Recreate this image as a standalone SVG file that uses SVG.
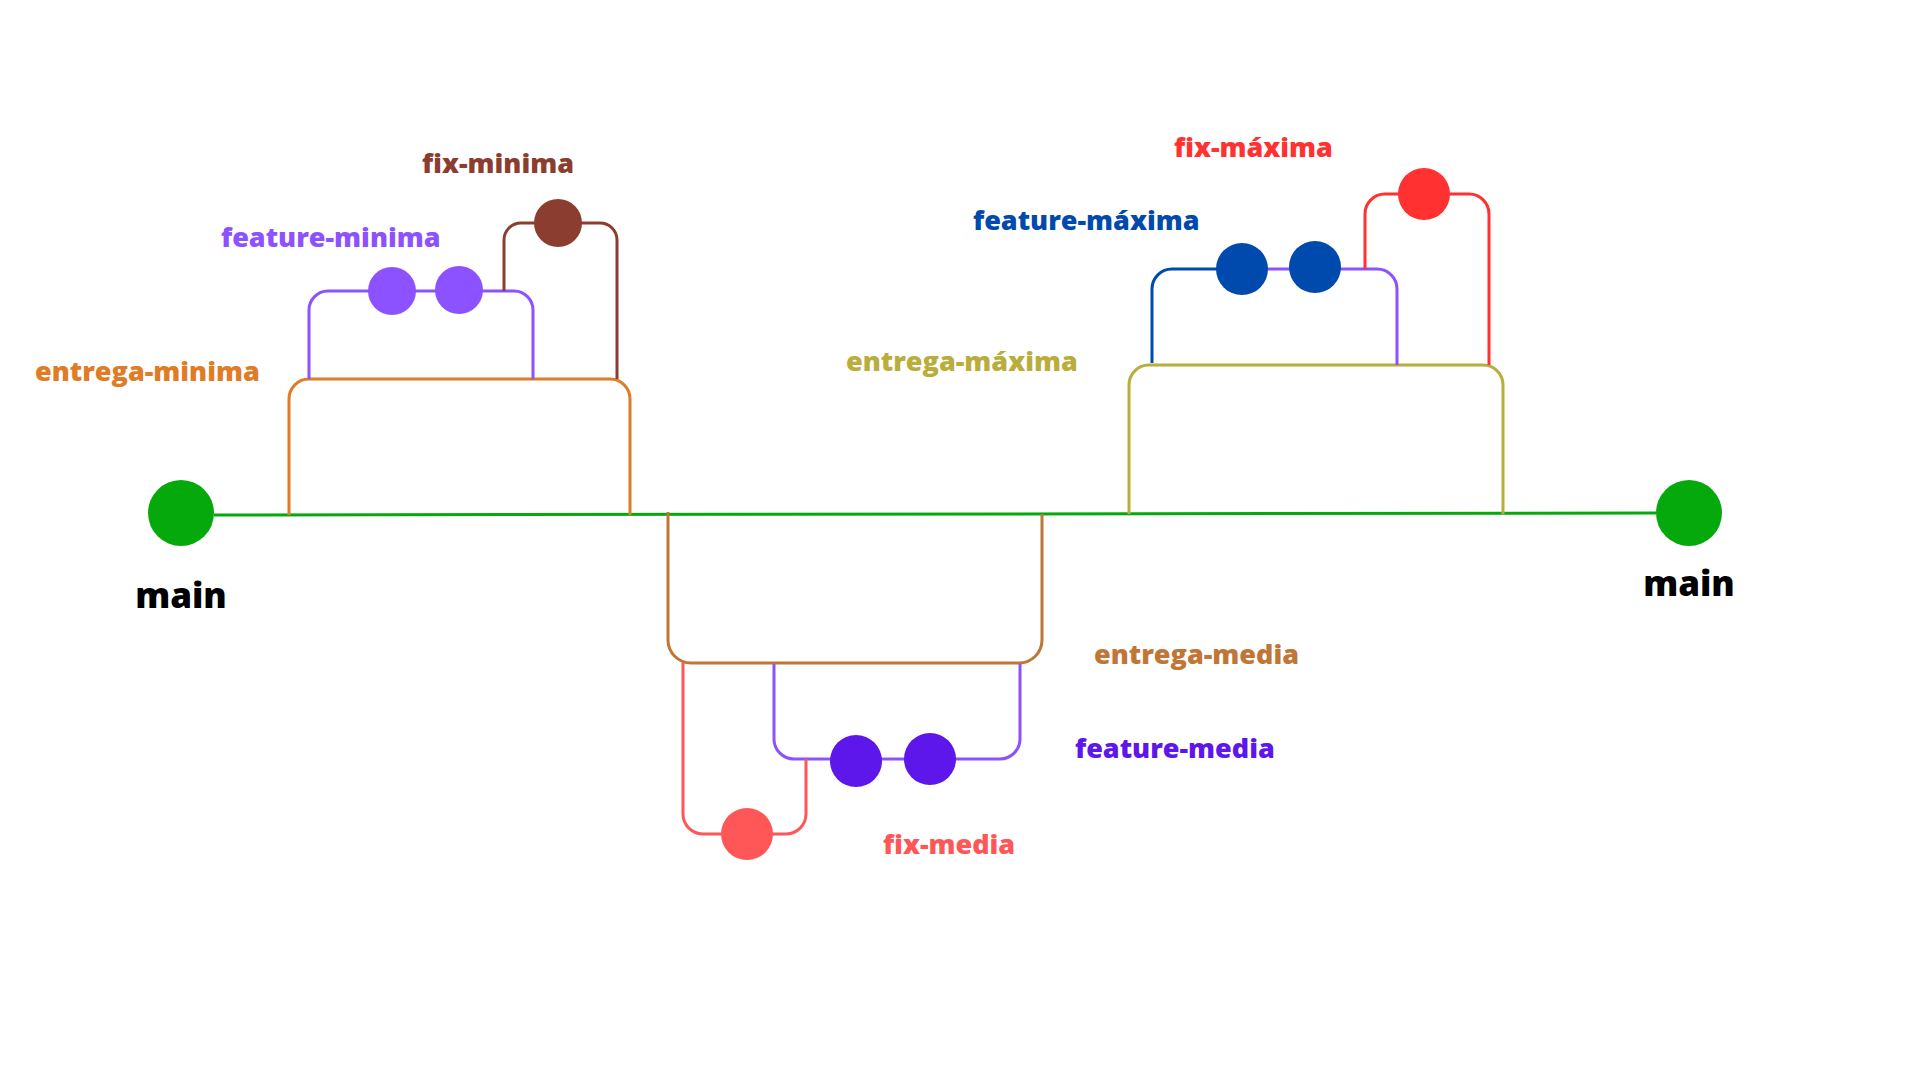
<svg xmlns="http://www.w3.org/2000/svg" width="1920" height="1080" viewBox="0 0 1920 1080">
<style>
  .lbl { font-family: "Open Sans", "Liberation Sans", sans-serif; font-weight: 800; font-size: 27px; }
  .main-lbl { font-family: "Open Sans", "Liberation Sans", sans-serif; font-weight: 800; font-size: 35px; fill: #000000; text-anchor: middle; }
  .ln { fill: none; stroke-width: 3; stroke-linecap: butt; }
</style>
<rect x="0" y="0" width="1920" height="1080" fill="#ffffff"/>
<g id="connectors">
  <path id="main-line" class="ln" stroke="#06A90B" d="M214,515 L1656,513"/>
  <path id="entrega-minima-line" class="ln" stroke="#E07B26" d="M289,515 V399 A20,20 0 0 1 309,379 H610 A20,20 0 0 1 630,399 V515"/>
  <path id="feature-minima-line" class="ln" stroke="#8C52FF" d="M309,379 V310 A19,19 0 0 1 328,291 H514 A19,19 0 0 1 533,310 V379"/>
  <path id="fix-minima-line" class="ln" stroke="#8B3E2F" d="M504,291 V240 A17,17 0 0 1 521,223 H600 A17,17 0 0 1 617,240 V379"/>
  <path id="entrega-media-line" class="ln" stroke="#C07636" d="M668,512 V640 A23,23 0 0 0 691,663 H1019 A23,23 0 0 0 1042,640 V514"/>
  <path id="feature-media-line" class="ln" stroke="#8C52FF" d="M774,664 V739 A20,20 0 0 0 794,759 H1000 A20,20 0 0 0 1020,739 V664"/>
  <path id="fix-media-line" class="ln" stroke="#FF5757" d="M683,663 V814 A20,20 0 0 0 703,834 H786 A20,20 0 0 0 806,814 V759"/>
  <path id="entrega-maxima-line" class="ln" stroke="#B9AD3C" d="M1129,514 V385 A20,20 0 0 1 1149,365 H1483 A20,20 0 0 1 1503,385 V514"/>
  <path id="feature-maxima-line-a" class="ln" stroke="#004AAD" d="M1152,363 V289 A20,20 0 0 1 1172,269 H1242"/>
  <path id="feature-maxima-line-b" class="ln" stroke="#8C52FF" d="M1242,269 H1377 A20,20 0 0 1 1397,289 V365"/>
  <path id="fix-maxima-line" class="ln" stroke="#FF3131" d="M1365,269 V214 A20,20 0 0 1 1385,194 H1469 A20,20 0 0 1 1489,214 V365"/>
</g>
<g id="main-start">
  <circle cx="181" cy="513" r="33" fill="#06A90B"/>
  <text class="main-lbl" x="181" y="608">main</text>
</g>
<g id="main-end">
  <circle cx="1689" cy="513" r="33" fill="#06A90B"/>
  <text class="main-lbl" x="1689" y="596">main</text>
</g>
<g id="entrega-minima">
  <text class="lbl" x="35" y="381" fill="#E07B26">entrega-minima</text>
</g>
<g id="feature-minima">
  <circle cx="392" cy="291" r="24" fill="#8C52FF"/>
  <circle cx="459" cy="290" r="24" fill="#8C52FF"/>
  <text class="lbl" x="221" y="247" fill="#8C52FF">feature-minima</text>
</g>
<g id="fix-minima">
  <circle cx="558" cy="223" r="24" fill="#8B3E2F"/>
  <text class="lbl" x="422" y="173" fill="#8B3E2F">fix-minima</text>
</g>
<g id="entrega-media">
  <text class="lbl" x="1094" y="664" fill="#C07636">entrega-media</text>
</g>
<g id="feature-media">
  <circle cx="856" cy="761" r="26" fill="#5E17EB"/>
  <circle cx="930" cy="759" r="26" fill="#5E17EB"/>
  <text class="lbl" x="1075" y="758" fill="#5E17EB">feature-media</text>
</g>
<g id="fix-media">
  <circle cx="747" cy="834" r="26" fill="#FF5757"/>
  <text class="lbl" x="883" y="854" fill="#FF5757">fix-media</text>
</g>
<g id="entrega-maxima">
  <text class="lbl" x="846" y="371" fill="#B9AD3C">entrega-máxima</text>
</g>
<g id="feature-maxima">
  <circle cx="1242" cy="269" r="26" fill="#004AAD"/>
  <circle cx="1315" cy="267" r="26" fill="#004AAD"/>
  <text class="lbl" x="973" y="230" fill="#004AAD">feature-máxima</text>
</g>
<g id="fix-maxima">
  <circle cx="1424" cy="194" r="26" fill="#FF3131"/>
  <text class="lbl" x="1174" y="157" fill="#FF3131">fix-máxima</text>
</g>
</svg>
